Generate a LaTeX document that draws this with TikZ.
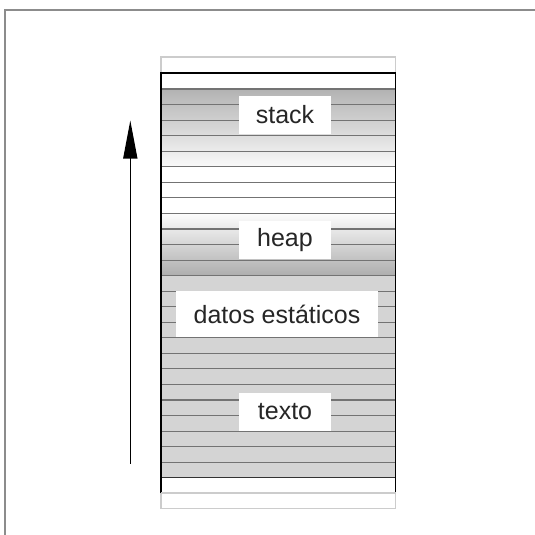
\documentclass[tikz,border=0pt]{standalone}
\usepackage{fontspec}
\setmainfont{Liberation Sans}
\usetikzlibrary{arrows.meta}
\tikzset{
  rowline/.style={white!45!black, line width=1.1},
  memlabel/.style={fill=white, inner sep=0, minimum width=92, minimum height=38,
    font=\fontsize{25}{30}\selectfont, text=black!85}
}

\begin{document}
\begin{tikzpicture}[x=1pt, y=-1pt]
\useasboundingbox (0,0) rectangle (535,535);
\draw[white!55!black, line width=1.6] (5,535) -- (5,10) -- (535,10);
% outer light frame
\draw[white!80!black, line width=1.2] (161,57) rectangle (395.5,508.5);
% segments
\shade[top color=white!70!black, bottom color=white!98!black] (161,89) rectangle (395.5,166.8);
\fill[white] (161,166.8) rectangle (395.5,213.4);
\shade[top color=white!99!black, bottom color=white!68!black] (161,213.4) rectangle (395.5,275.6);
\fill[white!83!black] (161,275.6) rectangle (395.5,477.8);
\foreach \k in {0,...,24}
  \draw[rowline] (161,89+15.55*\k) -- (395.5,89+15.55*\k);
\draw[black!80, line width=1.2] (161,477.8) -- (395.5,477.8);
\draw[black, line width=1.3] (161,493) -- (161,73) -- (395.5,73) -- (395.5,493);
\draw[white!80!black, line width=1.2] (161,493) -- (395.5,493);
% labels
\node[memlabel] (stack) at (285,115) {stack};
\node[memlabel] (heap) at (285,240) {heap};
\node[memlabel, minimum width=202, minimum height=46] (datos) at (277,314) {datos estáticos};
\node[memlabel] (texto) at (285,411.5) {texto};
% growth arrow
\coordinate (tail) at (130.3,463.5);
\coordinate (tip) at (130.3,120.5);
\draw[-{Triangle[length=38pt,width=14pt]}, line width=1.5] (tail) -- (tip);
\end{tikzpicture}
\end{document}
